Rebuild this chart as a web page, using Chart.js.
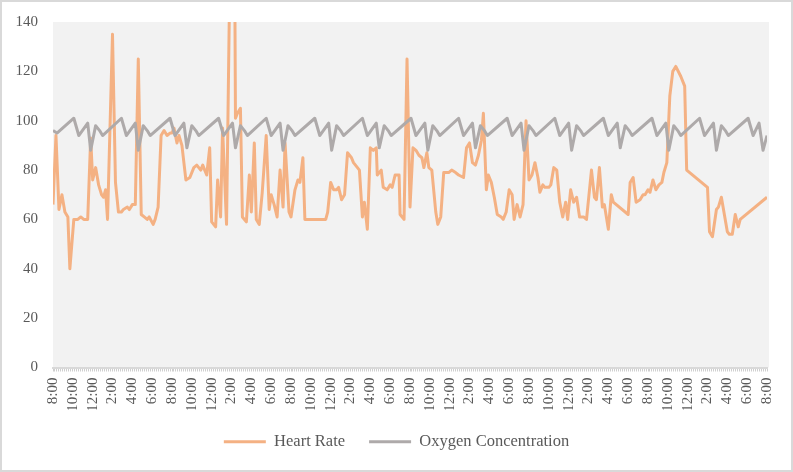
<!DOCTYPE html>
<html>
<head>
<meta charset="utf-8">
<script src="https://cdn.jsdelivr.net/npm/chart.js@4.4.1/dist/chart.umd.min.js"></script>
<style>
  html, body { margin: 0; padding: 0; background: #ffffff; }
  .frame {
    width: 793px;
    height: 472px;
    box-sizing: border-box;
    border: 2px solid #d9d9d9;
    background: #ffffff;
  }
  canvas { display: block; }
</style>
</head>
<body>
<div class="frame">
  <canvas id="vitalsChart" width="789" height="468"></canvas>
</div>
<script>
// tick labels along the time axis, one every 2 hours
const timeLabels = [
  "8:00", "10:00", "12:00", "2:00", "4:00", "6:00",
  "8:00", "10:00", "12:00", "2:00", "4:00", "6:00",
  "8:00", "10:00", "12:00", "2:00", "4:00", "6:00",
  "8:00", "10:00", "12:00", "2:00", "4:00", "6:00",
  "8:00", "10:00", "12:00", "2:00", "4:00", "6:00",
  "8:00", "10:00", "12:00", "2:00", "4:00", "6:00",
  "8:00"
]

// heart rate readings (hours since first reading, bpm)
const hrTimes = [
  0, 0.3, 0.6, 0.9, 1.2, 1.5, 1.7, 2.1, 2.5, 2.8,
  3.1, 3.5, 3.8, 4.0, 4.3, 4.6, 4.9, 5.1, 5.3, 5.5,
  6.0, 6.3, 6.6, 6.9, 7.1, 7.5, 7.7, 8.0, 8.3, 8.6,
  8.9, 9.2, 9.5, 9.7, 10.1, 10.3, 10.6, 10.9, 11.2, 11.5,
  11.8, 12.0, 12.2, 12.5, 12.7, 13.0, 13.4, 13.8, 14.2, 14.5,
  14.9, 15.1, 15.3, 15.5, 15.8, 16.0, 16.4, 16.6, 16.9, 17.1,
  17.5, 17.9, 18.3, 18.4, 18.6, 18.9, 19.1, 19.5, 19.8, 20.0,
  20.3, 20.5, 20.8, 21.1, 21.5, 21.8, 22.0, 22.3, 22.6, 22.9,
  23.2, 23.4, 23.8, 24.0, 24.4, 24.7, 24.9, 25.2, 25.4, 27.5,
  27.7, 28.0, 28.3, 28.6, 28.8, 29.1, 29.4, 29.7, 30.1, 30.3,
  30.7, 30.9, 31.2, 31.4, 31.7, 32.0, 32.3, 32.6, 32.7, 33.1,
  33.3, 33.7, 34.0, 34.2, 34.5, 34.9, 35.0, 35.4, 35.7, 36.0,
  36.3, 36.6, 36.9, 37.2, 37.4, 37.7, 37.9, 38.2, 38.6, 38.8,
  39.1, 39.4, 39.9, 40.2, 40.6, 40.9, 41.4, 41.7, 42.0, 42.3,
  42.6, 42.9, 43.2, 43.4, 43.7, 43.9, 44.2, 44.5, 44.8, 45.2,
  45.4, 45.7, 46.0, 46.3, 46.5, 46.8, 47.1, 47.4, 47.7, 48.0,
  48.3, 48.6, 48.9, 49.1, 49.4, 49.6, 50.0, 50.2, 50.5, 50.8,
  51.1, 51.4, 51.7, 51.9, 52.2, 52.5, 52.8, 53.1, 53.5, 53.8,
  54.3, 54.6, 54.8, 55.1, 55.4, 55.6, 56.0, 56.3, 56.5, 58.0,
  58.2, 58.5, 58.8, 59.2, 59.5, 59.7, 60.0, 60.2, 60.5, 60.8,
  61.1, 61.4, 61.6, 61.9, 62.2, 62.5, 62.8, 63.3, 63.7, 63.9,
  66.0, 66.2, 66.5, 66.9, 67.1, 67.4, 67.7, 68.0, 68.2, 68.5,
  68.8, 69.1, 69.3, 72.0
]
const hrValues = [
  66, 94, 64, 70, 63, 61, 40, 60, 60, 61,
  60, 60, 93, 76, 81, 74, 70, 69, 72, 60,
  135, 75, 63, 63, 64, 65, 64, 66, 66, 125,
  62, 61, 60, 61, 58, 60, 65, 94, 96, 94,
  95, 95, 97, 91, 94, 90, 76, 77, 81, 82,
  80, 82, 80, 78, 89, 59, 57, 76, 61, 97,
  58, 180, 180, 101, 103, 105, 61, 59, 78, 63,
  91, 60, 58, 71, 94, 64, 70, 66, 61, 80,
  65, 91, 63, 61, 72, 76, 75, 85, 60, 60,
  63, 75, 72, 72, 73, 68, 70, 87, 85, 83,
  81, 80, 61, 67, 56, 89, 88, 89, 78, 80,
  73, 72, 74, 73, 78, 78, 62, 60, 125, 65,
  89, 88, 86, 85, 81, 87, 81, 80, 63, 58,
  61, 79, 79, 80, 79, 78, 77, 89, 91, 83,
  82, 86, 92, 103, 72, 78, 75, 69, 62, 61,
  60, 63, 72, 70, 60, 66, 61, 66, 100, 76,
  78, 83, 77, 71, 74, 73, 73, 74, 81, 80,
  67, 61, 67, 60, 72, 67, 69, 61, 61, 60,
  80, 69, 68, 81, 65, 66, 56, 70, 67, 62,
  75, 77, 67, 68, 70, 70, 72, 71, 76, 72,
  74, 75, 79, 83, 110, 120, 122, 118, 114, 80,
  73, 55, 53, 64, 65, 69, 62, 55, 54, 54,
  62, 57, 60, 69
]

// oxygen concentration readings (hours, %)
const o2Times = [
  0, 0.4,
  2.1, 2.6, 3.5, 3.8, 4.3, 4.7, 5.0,
  6.9, 7.4, 8.3, 8.6, 9.1, 9.5, 9.8,
  11.8, 12.3, 13.2, 13.5, 14.0, 14.4, 14.7,
  16.7, 17.2, 18.1, 18.4, 18.9, 19.3, 19.6,
  21.5, 22.0, 22.9, 23.2, 23.7, 24.1, 24.4,
  26.4, 26.9, 27.8, 28.1, 28.6, 29.0, 29.3,
  31.2, 31.7, 32.6, 32.9, 33.4, 33.8, 34.1,
  36.1, 36.6, 37.5, 37.8, 38.3, 38.7, 39.0,
  40.9, 41.4, 42.3, 42.6, 43.1, 43.5, 43.8,
  45.8, 46.3, 47.2, 47.5, 48.0, 48.4, 48.7,
  50.6, 51.1, 52.0, 52.3, 52.8, 53.2, 53.5,
  55.5, 56.0, 56.9, 57.2, 57.7, 58.1, 58.4,
  60.4, 60.9, 61.8, 62.1, 62.6, 63.0, 63.3,
  65.2, 65.7, 66.6, 66.9, 67.4, 67.8, 68.1,
  70.1, 70.6, 71.2, 71.6, 72.0
]
const o2Values = [
  96, 95,
  101, 94, 99, 88, 98, 96, 94,
  101, 94, 99, 88, 98, 96, 94,
  101, 94, 99, 89, 98, 96, 94,
  101, 94, 99, 89, 98, 96, 94,
  101, 94, 99, 88, 98, 96, 94,
  101, 94, 99, 88, 98, 96, 94,
  101, 94, 99, 89, 98, 96, 94,
  101, 94, 99, 88, 98, 96, 94,
  101, 94, 99, 89, 98, 96, 94,
  101, 94, 99, 88, 98, 96, 94,
  101, 94, 99, 88, 98, 96, 94,
  101, 94, 99, 89, 98, 96, 94,
  101, 94, 99, 88, 98, 96, 94,
  101, 94, 99, 88, 98, 96, 94,
  101, 94, 99, 88, 94
]

const yTicks = { min: 0, max: 140, step: 20 }

const textColor = "#595959"
const hrColor = "#f4b183"
const o2Color = "#aeaaaa"

Chart.defaults.font.family = '"Liberation Serif", "DejaVu Serif", serif'
Chart.defaults.color = textColor

// grey fill behind the plot area
const plotBackground = {
  id: "plotBackground",
  beforeDraw(chart) {
    const { ctx, chartArea } = chart
    ctx.save()
    ctx.fillStyle = "#f2f2f2"
    ctx.fillRect(chartArea.left, chartArea.top, chartArea.right - chartArea.left + 2, chartArea.bottom - chartArea.top)
    ctx.restore()
  }
}

const toPoints = (times, values) => times.map((t, i) => ({ x: t, y: values[i] }))

const ctx = document.getElementById("vitalsChart")
new Chart(ctx, {
  type: "line",
  data: {
    datasets: [
      {
        label: "Heart Rate",
        data: toPoints(hrTimes, hrValues),
        borderColor: hrColor,
        backgroundColor: hrColor,
        borderWidth: 3,
        borderJoinStyle: "round",
        pointRadius: 0,
        tension: 0,
        yAxisID: "y",
        order: 2
      },
      {
        label: "Oxygen Concentration",
        data: toPoints(o2Times, o2Values),
        borderColor: o2Color,
        backgroundColor: o2Color,
        borderWidth: 3,
        borderJoinStyle: "round",
        pointRadius: 0,
        tension: 0,
        yAxisID: "y",
        order: 1
      }
    ]
  },
  options: {
    responsive: false,
    animation: false,
    layout: {
      padding: { top: 20, right: 0, bottom: 10, left: 0 }
    },
    plugins: {
      tooltip: { enabled: false },
      legend: {
        position: "bottom",
        labels: {
          boxWidth: 42,
          boxHeight: 3,
          padding: 24,
          color: textColor,
          font: { size: 16.5 },
          sort: (a, b) => a.datasetIndex - b.datasetIndex,
          generateLabels: (chart) => {
            const items = Chart.defaults.plugins.legend.labels.generateLabels(chart)
            items.forEach((item) => {
              item.fillStyle = item.strokeStyle
              item.lineWidth = 0
            })
            return items
          }
        }
      }
    },
    scales: {
      x: {
        type: "linear",
        min: 0,
        max: 72,
        afterFit: (scale) => { scale.height = 42 },
        grid: {
          drawOnChartArea: false,
          drawTicks: true,
          tickLength: 4,
          tickColor: "#cfcfcf"
        },
        border: { color: "#d9d9d9", width: 2 },
        ticks: {
          stepSize: 0.2,
          autoSkip: false,
          minRotation: 90,
          maxRotation: 90,
          padding: 6,
          color: textColor,
          font: { size: 15 },
          callback: (value) => {
            const k = value / 2
            const idx = Math.round(k)
            return Math.abs(k - idx) < 1e-6 ? timeLabels[idx] : ""
          }
        }
      },
      y: {
        min: yTicks.min,
        max: yTicks.max,
        afterFit: (scale) => { scale.width = 51 },
        // hidden tick marks only supply the gap between labels and plot
        grid: { display: false, drawTicks: true, tickLength: 15 },
        border: { display: false },
        ticks: {
          stepSize: yTicks.step,
          padding: 0,
          color: textColor,
          font: { size: 15 }
        }
      },
      // empty right-hand strip so the legend stays centred on the whole chart
      yRight: {
        position: "right",
        afterFit: (scale) => { scale.width = 23 },
        grid: { display: false, drawTicks: false },
        border: { display: false },
        ticks: { display: false }
      }
    }
  },
  plugins: [plotBackground]
})
</script>
</body>
</html>
